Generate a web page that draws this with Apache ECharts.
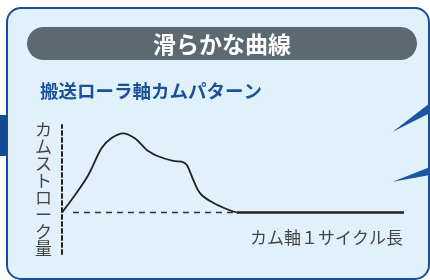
<!DOCTYPE html>
<html>
<head>
<meta charset="utf-8">
<script src="https://cdn.jsdelivr.net/npm/echarts@6/dist/echarts.min.js"></script>
<style>
  html, body { margin: 0; padding: 0; background: #fff; }
  #chart { width: 430px; height: 280px; }
</style>
</head>
<body>
<div id="chart"></div>
<script>
// カム曲線（x: サイクル位置 0-100, y: ストローク 0-100）
var camX = [0, 3.8, 7.7, 11.6, 14.5, 17.9, 21.3, 24.3, 24.8, 27.7, 32.5, 35.0, 36.5, 38.4, 40.4, 43.3, 47.2, 51.1];
var camY = [0, 20, 42.9, 73.7, 85.1, 90.5, 84.8, 73.4, 71.4, 64.9, 58.9, 58.1, 54.3, 37.1, 21.9, 13.1, 5.5, 0];
var dwellX = [51.1, 100];
var dwellY = [0, 0];
var baseX = [3.2, 51.1];
var baseY = [0, 0];

var titleText = '滑らかな曲線';
var subText = '搬送ローラ軸カムパターン';
var yName = 'カムストローク量';
var xName = 'カム軸１サイクル長';

function pairs(xs, ys) {
  var out = [];
  for (var i = 0; i < xs.length; i++) out.push([xs[i], ys[i]]);
  return out;
}

var font = '"Noto Sans CJK JP", "Noto Sans", sans-serif';
var myChart = echarts.init(document.getElementById('chart'));

myChart.setOption({
  backgroundColor: '#ffffff',
  animation: false,
  grid: { left: 62, right: 26, top: 125, bottom: 26 },
  xAxis: { type: 'value', min: 0, max: 100, show: false },
  yAxis: {
    type: 'value', min: -47.4, max: 100,
    axisLine: { show: true, lineStyle: { color: '#222', width: 2, type: [4, 3] } },
    axisTick: { show: false },
    axisLabel: { show: false },
    splitLine: { show: false }
  },
  graphic: [
    // 左の帯
    { type: 'rect', z: -20, shape: { x: 0, y: 115, width: 10, height: 41 }, style: { fill: '#124b94' } },
    // パネル
    { type: 'rect', z: -10, shape: { x: 7, y: 8, width: 422, height: 271, r: 14 },
      style: { fill: '#e1f1fb', stroke: '#1a4f98', lineWidth: 2 } },
    // 右の光線
    { type: 'polygon', z: -5, shape: { points: [[392.7, 131.7], [430, 103], [430, 113]] }, style: { fill: '#1b56a3' } },
    { type: 'polygon', z: -5, shape: { points: [[392.7, 181.7], [430, 167], [430, 175]] }, style: { fill: '#1b56a3' } },
    // タイトルバー
    { type: 'rect', z: -5, shape: { x: 27, y: 27, width: 390, height: 33, r: 16.5 }, style: { fill: '#5b6a70' } },
    { type: 'text', z: 5, x: 222, y: 44,
      style: { text: titleText, fill: '#fff', font: 'bold 23px ' + font, textAlign: 'center', textVerticalAlign: 'middle' } },
    { type: 'text', z: 5, x: 40, y: 91,
      style: { text: subText, fill: '#1a5199', font: 'bold 18.5px ' + font, textAlign: 'left', textVerticalAlign: 'middle' } },
    { type: 'text', z: 5, x: 43.5, y: 121,
      style: { text: yName.split('').join('\n'), fill: '#444', font: '17px ' + font, lineHeight: 17,
        textAlign: 'center', textVerticalAlign: 'top' } },
    { type: 'text', z: 5, x: 403, y: 238,
      style: { text: xName, fill: '#444', font: '17px ' + font, textAlign: 'right', textVerticalAlign: 'middle' } }
  ],
  series: [
    {
      type: 'line', data: pairs(baseX, baseY), symbol: 'none',
      lineStyle: { color: '#333', width: 1.5, type: [6, 5] }
    },
    {
      type: 'line', data: pairs(camX, camY), symbol: 'none', smooth: 0.35,
      lineStyle: { color: '#222', width: 1.8 }
    },
    {
      type: 'line', data: pairs(dwellX, dwellY), symbol: 'none',
      lineStyle: { color: '#222', width: 2.4 }
    }
  ]
});

window.addEventListener('resize', function () { myChart.resize(); });
</script>
</body>
</html>
